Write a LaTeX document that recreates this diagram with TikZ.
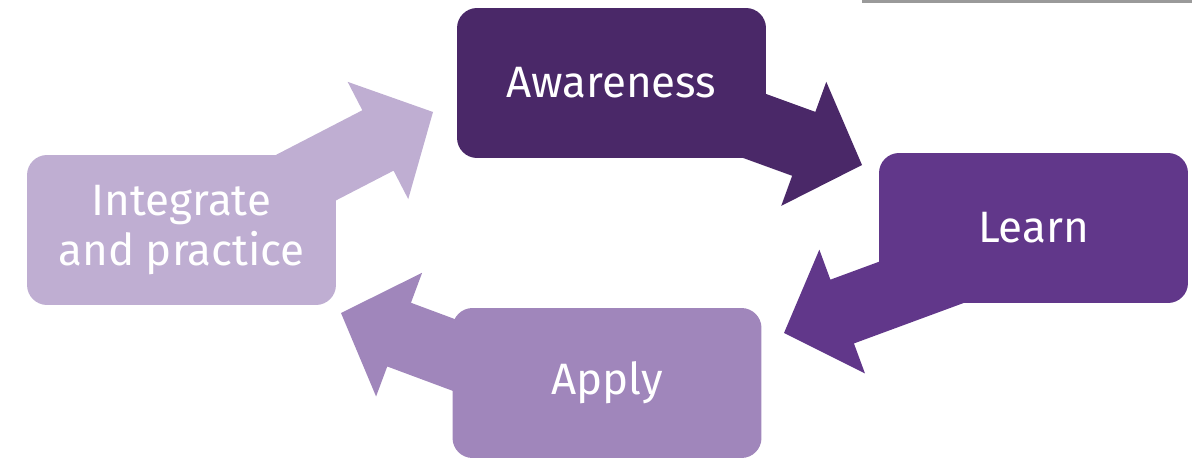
\documentclass[tikz,border=0pt]{standalone}
\usepackage{fontspec}
\setmainfont{Fira Sans}
\usetikzlibrary{calc,backgrounds}
\definecolor{awarecol}{HTML}{4A2868}
\definecolor{learncol}{HTML}{61378A}
\definecolor{applycol}{HTML}{A086BB}
\definecolor{integcol}{HTML}{BFAED2}
\definecolor{rulegray}{HTML}{9A9A9A}
\begin{document}
\begin{tikzpicture}[x=0.02cm, y=-0.02cm,
	box/.style={rounded corners=0.4cm, minimum width=6.18cm, minimum height=3cm, inner sep=0pt,
		text=white, align=center, font=\fontsize{25}{28.5}\selectfont},
	flow/.style={fill=#1, to path={
		($(\tikztostart)!0.68cm!90:(\tikztotarget)$)
		-- ($(\tikztotarget)!1.24cm!(\tikztostart)!0.68cm!90:(\tikztotarget)$)
		-- ($(\tikztotarget)!1.24cm!(\tikztostart)!1.32cm!90:(\tikztotarget)$)
		-- (\tikztotarget)
		-- ($(\tikztotarget)!1.24cm!(\tikztostart)!1.32cm!-90:(\tikztotarget)$)
		-- ($(\tikztotarget)!1.24cm!(\tikztostart)!0.68cm!-90:(\tikztotarget)$)
		-- ($(\tikztostart)!0.68cm!-90:(\tikztotarget)$) -- cycle}}]
		\useasboundingbox (0,0) rectangle (1192,459);
		\fill[rulegray] (862,0) rectangle (1192,2.7);
		% Boxes
		\node[box, fill=awarecol] (Awareness) at (611.5,83) {Awareness};
		\node[box, fill=learncol] (Learn) at (1033.5,228) {Learn};
		\node[box, fill=applycol] (Apply) at (607,383) {Apply};
		\node[box, fill=integcol] (Integrate) at (181.5,230) {Integrate\\and practice};
		% Arrow tips
		\coordinate (Awareness tip) at (862,165);
		\coordinate (Learn tip) at (784,333);
		\coordinate (Apply tip) at (341,313);
		\coordinate (Integrate tip) at (433,112);
		% Arrows
		\begin{scope}[on background layer]
			\path[flow=awarecol] ($(Awareness.center)+(0,-9)$) to (Awareness tip);
			\path[flow=learncol] ($(Learn.center)+(0,13)$) to (Learn tip);
			\path[flow=applycol] ($(Apply.center)+(0,29)$) to (Apply tip);
			\path[flow=integcol] ($(Integrate.center)+(0,12)$) to (Integrate tip);
		\end{scope}
	\end{tikzpicture}
\end{document}
